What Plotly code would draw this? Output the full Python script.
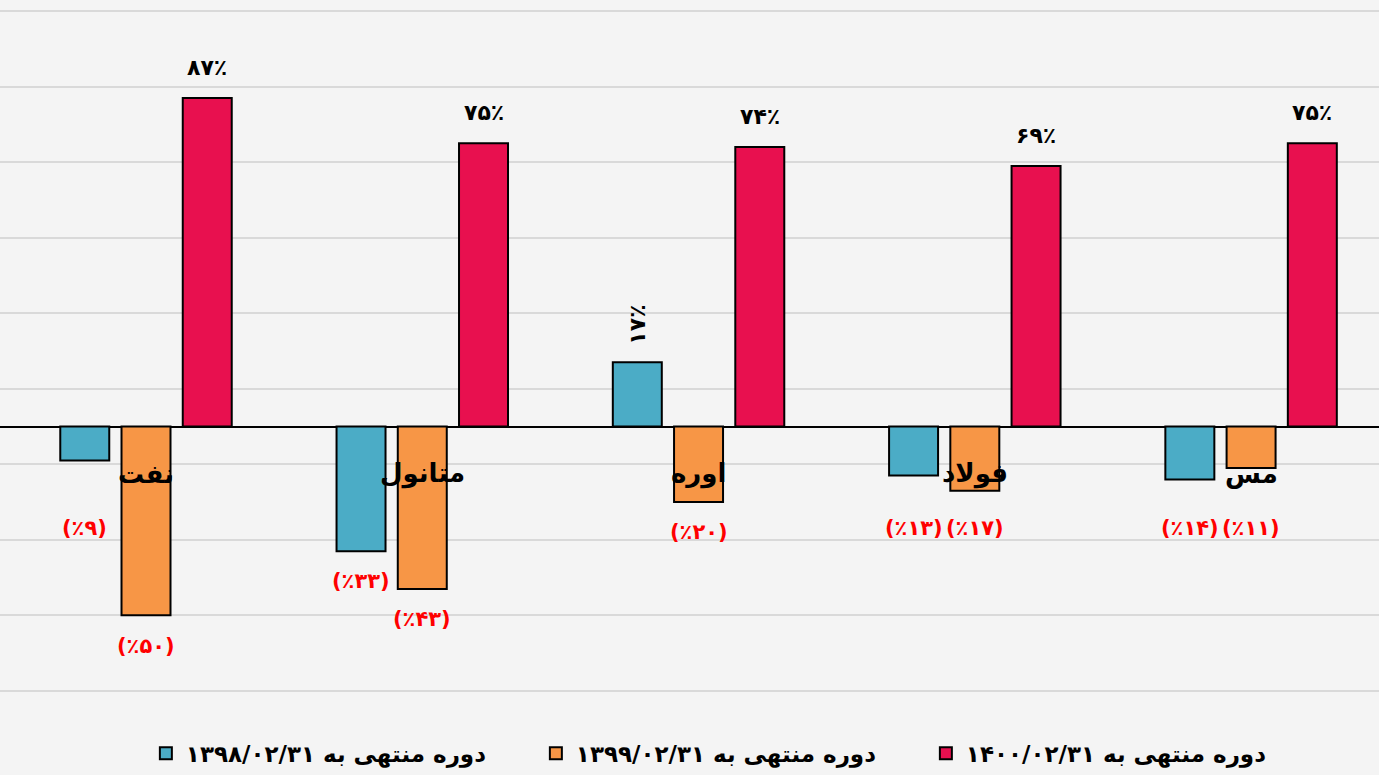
import plotly.graph_objects as go

categories = ["نفت", "متانول", "اوره", "فولاد", "مس"]
series_names = [
    "دوره منتهی به ۱۳۹۸/۰۲/۳۱",
    "دوره منتهی به ۱۳۹۹/۰۲/۳۱",
    "دوره منتهی به ۱۴۰۰/۰۲/۳۱",
]
values_1398 = [-9, -33, 17, -13, -14]
values_1399 = [-50, -43, -20, -17, -11]
values_1400 = [87, 75, 74, 69, 75]
colors = ["#4bacc6", "#f79646", "#e8104f"]

FONT = "DejaVu Sans"
PERSIAN_DIGITS = str.maketrans("0123456789", "۰۱۲۳۴۵۶۷۸۹")


def fa(n):
    return str(abs(n)).translate(PERSIAN_DIGITS)


all_series = [values_1398, values_1399, values_1400]

fig = go.Figure()
for name, vals, col in zip(series_names, all_series, colors):
    fig.add_trace(go.Bar(
        x=categories, y=vals, name=name,
        marker=dict(color=col, line=dict(color="#000000", width=2)),
    ))

slot_px = 61.25
annotations = []
for si, vals in enumerate(all_series):
    for ci, v in enumerate(vals):
        shift = (si - 1) * slot_px
        if v >= 0:
            rotated = v < 30
            annotations.append(dict(
                x=categories[ci], y=v, xref="x", yref="y",
                text=fa(v) + "٪", showarrow=False,
                xshift=shift, yshift=16, yanchor="bottom",
                textangle=-90 if rotated else 0,
                font=dict(family=FONT, size=22, color="#000000", weight="bold"),
            ))
        else:
            annotations.append(dict(
                x=categories[ci], y=min(v - 8, -27), xref="x", yref="y",
                text="(٪" + fa(v) + ")", showarrow=False,
                xshift=shift, yanchor="middle",
                font=dict(family=FONT, size=21, color="#ff0000", weight="bold"),
            ))

for c in categories:
    annotations.append(dict(
        x=c, y=0, xref="x", yref="y", text=c,
        showarrow=False, yshift=-47, yanchor="middle",
        font=dict(family=FONT, size=26, color="#000000", weight="bold"),
    ))

fig.update_layout(
    width=1379, height=775,
    margin=dict(l=0, r=0, t=10, b=80),
    paper_bgcolor="#f4f4f4", plot_bgcolor="#f4f4f4",
    barmode="group", bargap=0.335, bargroupgap=0.2,
    showlegend=True,
    legend=dict(
        orientation="h", x=0.53, xanchor="center", y=-0.09, yanchor="middle",
        font=dict(family=FONT, size=23, color="#000000", weight="bold"),
        entrywidth=345, entrywidthmode="pixels",
        bgcolor="rgba(0,0,0,0)",
    ),
    xaxis=dict(
        range=[-0.5285, 4.463], showticklabels=False, showgrid=False,
        zeroline=False, showline=False, ticks="",
    ),
    yaxis=dict(
        range=[-70.3, 110.3], tick0=-70, dtick=20, showticklabels=False,
        showgrid=True, gridcolor="#d9d9d9", gridwidth=2,
        zeroline=True, zerolinecolor="#000000", zerolinewidth=2,
        showline=False, ticks="",
    ),
    annotations=annotations,
    font=dict(family=FONT),
)

fig.write_html(
    "out.html",
    config={"displayModeBar": False},
    post_script="document.body.style.margin='0';document.body.style.background='#f4f4f4';",
)
